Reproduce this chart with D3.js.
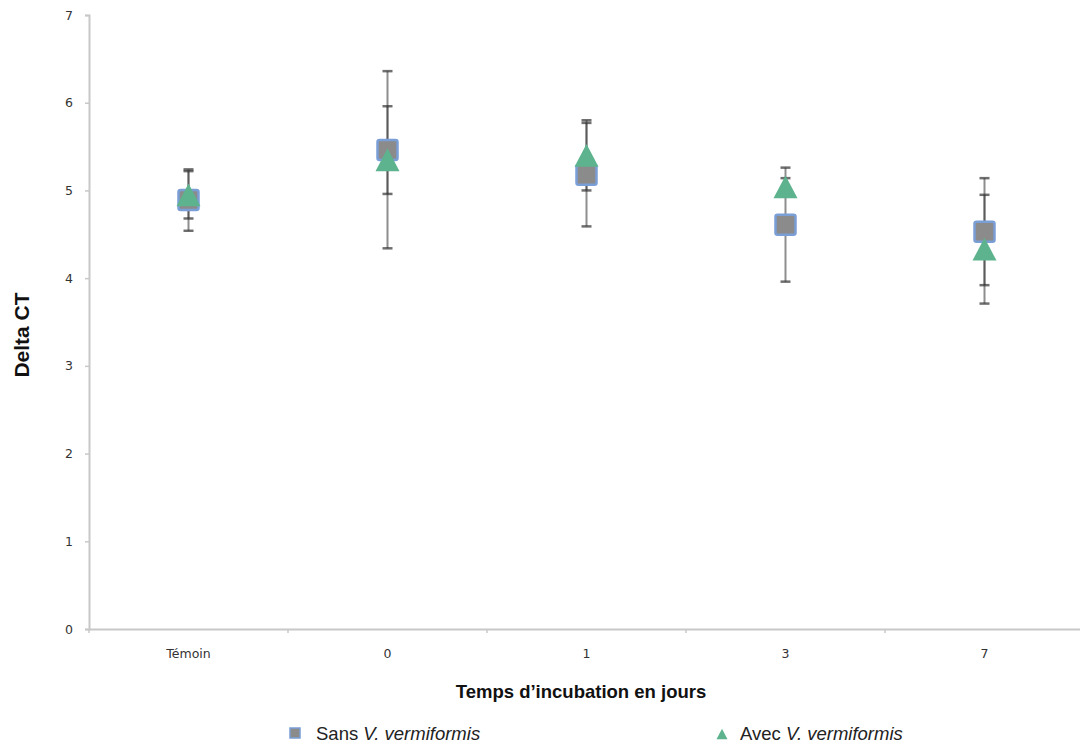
<!DOCTYPE html>
<html><head><meta charset="utf-8">
<script src="https://cdn.jsdelivr.net/npm/d3@7"></script>
<style>body{margin:0;background:#fff;} svg{display:block;}</style>
</head><body>
<script>
const categories = ["Témoin", "0", "1", "3", "7"];
const sansValues = [4.89, 5.46, 5.18, 4.61, 4.53];
const sansErrors = [0.35, 0.50, 0.59, 0.65, 0.61];
const avecValues = [4.95, 5.35, 5.40, 5.04, 4.33];
const avecErrors = [0.27, 1.01, 0.40, 0.10, 0.62];
const yTicks = [0, 1, 2, 3, 4, 5, 6, 7];

const W = 1080, H = 745;
const m = {left: 89, right: -4, top: 15, bottom: 116};
const svg = d3.select("body").append("svg").attr("width", W).attr("height", H);

const x = d3.scaleBand().domain(categories).range([m.left, W - m.right]).padding(0);
const y = d3.scaleLinear().domain([0, 7]).range([H - m.bottom, m.top]);

// Y axis
const yAx = svg.append("g").attr("transform", `translate(${m.left},0)`)
  .call(d3.axisLeft(y).tickValues(yTicks).tickSize(4).tickPadding(12).tickFormat(d3.format("d")));
yAx.select(".domain").attr("stroke", "#c8c8c8").attr("stroke-width", 2);
yAx.selectAll(".tick line").attr("stroke", "#c8c8c8").attr("stroke-width", 1.5);
yAx.selectAll("text").attr("font-family", "DejaVu Sans, sans-serif").attr("font-size", 12.5).attr("fill", "#333");

// X axis
const xAx = svg.append("g").attr("transform", `translate(0,${y(0)})`)
  .call(d3.axisBottom(x).tickSize(0).tickPadding(20));
xAx.select(".domain").attr("stroke", "#c8c8c8").attr("stroke-width", 2);
xAx.selectAll("text").attr("font-family", "DejaVu Sans, sans-serif").attr("font-size", 12.5).attr("fill", "#333");
// boundary ticks
svg.append("g").selectAll("line").data(categories).join("line")
  .attr("x1", d => x(d)).attr("x2", d => x(d))
  .attr("y1", y(0)).attr("y2", y(0) + 4)
  .attr("stroke", "#c8c8c8").attr("stroke-width", 1.5);

// titles
svg.append("text").attr("transform", `translate(29,${(y(0)+y(7))/2 + 13}) rotate(-90)`)
  .attr("text-anchor", "middle").attr("font-family", "Liberation Sans, Arial, sans-serif")
  .attr("font-weight", "bold").attr("font-size", 21).attr("fill", "#111").text("Delta CT");
svg.append("text").attr("x", 581).attr("y", 698)
  .attr("text-anchor", "middle").attr("font-family", "Liberation Sans, Arial, sans-serif")
  .attr("font-weight", "bold").attr("font-size", 18.5).attr("fill", "#111").text("Temps d’incubation en jours");

const cx = d => x(d) + x.bandwidth() / 2;

// error bars
function errBars(vals, errs) {
  const g = svg.append("g");
  categories.forEach((c, i) => {
    const top = y(vals[i] + errs[i]), bot = y(vals[i] - errs[i]), X = cx(c);
    g.append("line").attr("x1", X).attr("x2", X).attr("y1", top).attr("y2", bot)
      .attr("stroke", "#333").attr("stroke-width", 2).attr("opacity", 0.55);
    [top, bot].forEach(yy => g.append("line").attr("x1", X - 5).attr("x2", X + 5)
      .attr("y1", yy).attr("y2", yy).attr("stroke", "#333").attr("stroke-width", 2.5).attr("opacity", 0.7));
  });
}
errBars(avecValues, avecErrors);
errBars(sansValues, sansErrors);

// squares
svg.append("g").selectAll("rect").data(categories).join("rect")
  .attr("x", (d) => cx(d) - 10).attr("y", (d, i) => y(sansValues[i]) - 10)
  .attr("width", 20).attr("height", 20).attr("rx", 2)
  .attr("fill", "#8b8b8b").attr("stroke", "#7a9ed6").attr("stroke-width", 2.5);

// triangles centred on their bounding box
const boxTriangle = {
  draw(ctx, size) {
    const w = Math.sqrt(size), h = w * 0.95;
    ctx.moveTo(0, -h / 2); ctx.lineTo(w / 2, h / 2); ctx.lineTo(-w / 2, h / 2); ctx.closePath();
  }
};
svg.append("g").selectAll("path").data(categories).join("path")
  .attr("d", d3.symbol().type(boxTriangle).size(24 * 24))
  .attr("transform", (d, i) => `translate(${cx(d)},${y(avecValues[i])})`)
  .attr("fill", "#5db38e");

// legend
const lg = svg.append("g");
lg.append("rect").attr("x", 290).attr("y", 728).attr("width", 10).attr("height", 10)
  .attr("fill", "#8b8b8b").attr("stroke", "#7a9ed6").attr("stroke-width", 1.5);
const t1 = lg.append("text").attr("x", 316).attr("y", 740).attr("font-family", "Liberation Sans, Arial, sans-serif")
  .attr("font-size", 18.5).attr("fill", "#222");
t1.append("tspan").text("Sans ");
t1.append("tspan").attr("font-style", "italic").text("V. vermiformis");
lg.append("path").attr("d", d3.symbol().type(boxTriangle).size(11 * 11))
  .attr("transform", "translate(722,734)").attr("fill", "#5db38e");
const t2 = lg.append("text").attr("x", 740).attr("y", 740).attr("font-family", "Liberation Sans, Arial, sans-serif")
  .attr("font-size", 18.5).attr("fill", "#222");
t2.append("tspan").text("Avec ");
t2.append("tspan").attr("font-style", "italic").text("V. vermiformis");
</script>
</body></html>
